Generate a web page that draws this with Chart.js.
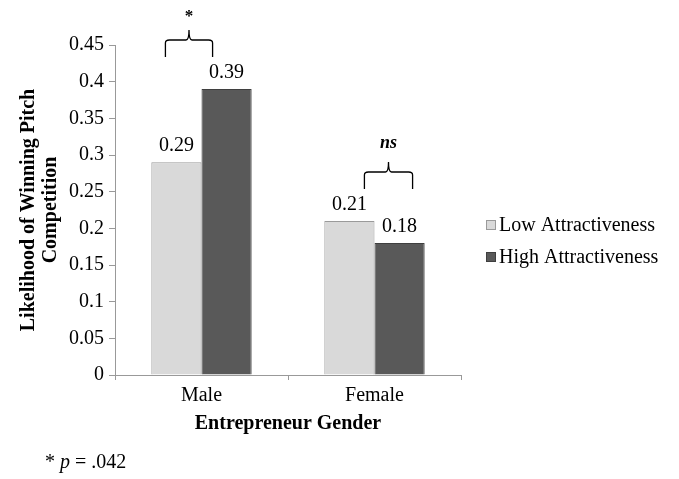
<!DOCTYPE html>
<html>
<head>
<meta charset="utf-8">
<script src="https://cdn.jsdelivr.net/npm/chart.js@4"></script>
<style>
  html, body { margin: 0; padding: 0; background: #fff; }
  #wrap { width: 679px; height: 479px; }
</style>
</head>
<body>
<div id="wrap"><canvas id="barChart" width="679" height="479"></canvas></div>
<script>
var categories = ['Male', 'Female'];
var seriesNames = ['Low Attractiveness', 'High Attractiveness'];
var lowValues = [0.29, 0.21];
var highValues = [0.39, 0.18];
var yTicks = [0, 0.05, 0.1, 0.15, 0.2, 0.25, 0.3, 0.35, 0.4, 0.45];
var sigLabels = ['*', 'ns'];

var serif = '"Liberation Serif", "Times New Roman", serif';

// labels, braces, legend and footnote drawn on top of the bars
var extras = {
    id: 'extras',
    afterDatasetsDraw: function (chart) {
        var ctx = chart.ctx;
        ctx.save();
        ctx.fillStyle = '#000';
        ctx.font = '20px ' + serif;
        ctx.textAlign = 'center';
        ctx.textBaseline = 'alphabetic';
        chart.data.datasets.forEach(function (ds, di) {
            var meta = chart.getDatasetMeta(di);
            meta.data.forEach(function (bar, i) {
                ctx.fillText(String(ds.data[i]), bar.x, bar.y - 11);
            });
        });

        // braces over each group
        var lowMeta = chart.getDatasetMeta(0), highMeta = chart.getDatasetMeta(1);
        for (var i = 0; i < categories.length; i++) {
            var lb = lowMeta.data[i], hb = highMeta.data[i];
            var yTop = Math.min(lb.y, hb.y);
            var left, right, base = yTop - 32;
            if (i == 0) { left = lb.x - 11; right = hb.x - 14; }
            else { left = lb.x + 15; right = hb.x + 13; }
            var mid = (left + right) / 2;
            ctx.strokeStyle = '#000';
            ctx.lineWidth = 1.3;
            ctx.beginPath();
            ctx.moveTo(left, base);
            ctx.lineTo(left, base - 14);
            ctx.quadraticCurveTo(left, base - 17, left + 4, base - 17);
            ctx.lineTo(mid - 3, base - 17);
            ctx.quadraticCurveTo(mid, base - 17, mid, base - 27);
            ctx.quadraticCurveTo(mid, base - 17, mid + 3, base - 17);
            ctx.lineTo(right - 4, base - 17);
            ctx.quadraticCurveTo(right, base - 17, right, base - 14);
            ctx.lineTo(right, base);
            ctx.stroke();
            ctx.textBaseline = 'middle';
            if (i == 0) {
                ctx.font = 'bold 17px ' + serif;
                ctx.fillText(sigLabels[i], mid, base - 40);
            } else {
                ctx.font = 'italic bold 18px ' + serif;
                ctx.fillText(sigLabels[i], mid, base - 46);
            }
        }

        // legend
        ctx.font = '20px ' + serif;
        ctx.textAlign = 'left';
        ctx.textBaseline = 'middle';
        chart.data.datasets.forEach(function (ds, di) {
            var y = 225 + di * 32;
            ctx.fillStyle = ds.backgroundColor;
            ctx.strokeStyle = ds.borderColor;
            ctx.lineWidth = 1;
            ctx.fillRect(486, y - 5, 10, 10);
            ctx.strokeRect(486.5, y - 4.5, 9, 9);
            ctx.fillStyle = '#000';
            ctx.fillText(ds.label, 499, y + 1);
        });

        // footnote
        ctx.textBaseline = 'alphabetic';
        var x = 45, y = 468;
        ctx.font = '20px ' + serif;
        ctx.fillText('* ', x, y);
        x += ctx.measureText('* ').width;
        ctx.font = 'italic 20px ' + serif;
        ctx.fillText('p', x, y);
        x += ctx.measureText('p').width;
        ctx.font = '20px ' + serif;
        ctx.fillText(' = .042', x, y);
        ctx.restore();
    }
};

var barChartData = {
    labels: categories,
    datasets: [
        {
            label: seriesNames[0],
            backgroundColor: '#d9d9d9',
            borderColor: '#9a9a9a',
            borderWidth: 1,
            data: lowValues
        },
        {
            label: seriesNames[1],
            backgroundColor: '#595959',
            borderColor: '#3f3f3f',
            borderWidth: 1,
            data: highValues
        }
    ]
};

var barChartOptions = {
    responsive: false,
    animation: false,
    layout: { padding: { top: 45, right: 218, bottom: 43, left: 14 } },
    plugins: { legend: { display: false }, tooltip: { enabled: false } },
    datasets: { bar: { barPercentage: 1.0, categoryPercentage: 0.58 } },
    scales: {
        x: {
            grid: { display: true, offset: true, drawOnChartArea: false, color: '#999', tickLength: 5 },
            border: { color: '#999' },
            ticks: { color: '#000', font: { family: serif, size: 20 }, padding: 4 },
            title: { display: true, text: 'Entrepreneur Gender', color: '#000',
                font: { family: serif, size: 20, weight: 'bold' }, padding: { top: 0, bottom: 0 } }
        },
        y: {
            min: 0, max: 0.45,
            afterBuildTicks: function (axis) {
                axis.ticks = yTicks.map(function (v) { return { value: v }; });
            },
            grid: { display: true, drawOnChartArea: false, color: '#999', tickLength: 6 },
            border: { color: '#999' },
            ticks: {
                color: '#000', font: { family: serif, size: 20 }, padding: 5,
                callback: function (v) { return String(+v.toFixed(2)); }
            },
            title: { display: true, text: ['Likelihood of Winning Pitch', 'Competition'], color: '#000',
                font: { family: serif, size: 20, weight: 'bold', lineHeight: 1.1 }, padding: { bottom: 2 } }
        }
    }
};

new Chart(document.getElementById('barChart').getContext('2d'), {
    type: 'bar',
    data: barChartData,
    options: barChartOptions,
    plugins: [extras]
});
</script>
</body>
</html>
